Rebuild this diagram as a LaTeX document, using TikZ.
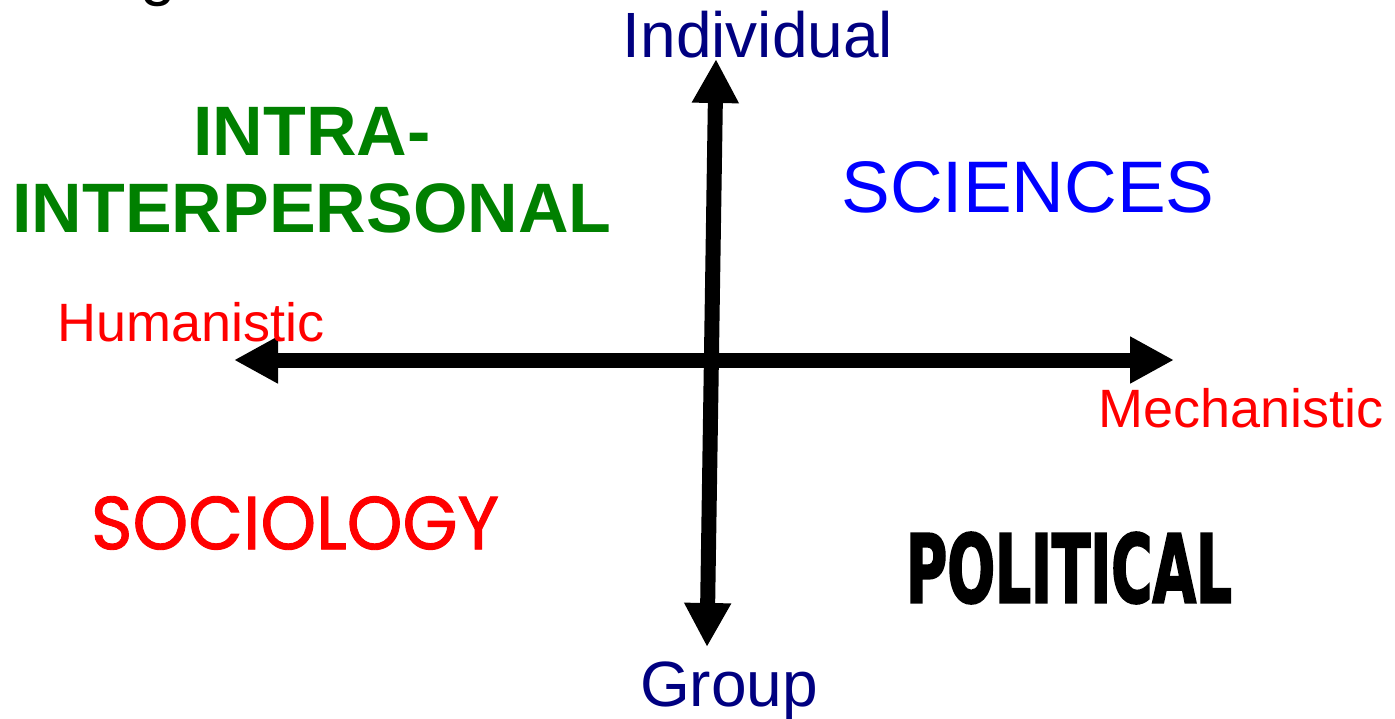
\documentclass[tikz,border=0pt]{standalone}
\usepackage{fontspec}
\setmainfont{Liberation Sans}
\newfontfamily\comicfont{Poppins}[FakeBold=1.2]
\newfontfamily\impfont{DejaVu Sans Condensed}[BoldFeatures={FakeBold=2.5}]
\usetikzlibrary{positioning,arrows.meta}
\definecolor{axisnavy}{RGB}{0,0,128}
\definecolor{quadgreen}{RGB}{0,128,0}
\definecolor{quadblue}{RGB}{0,0,255}
\definecolor{polered}{RGB}{255,0,0}
\tikzset{every picture/.style={>={Triangle[length=44pt,width=44pt]}}}
\tikzset{axis line/.style={line width=15pt,<->}}
\tikzset{pole/.style={text=axisnavy,anchor=base,inner sep=0pt,font=\fontsize{64}{70}\selectfont}}
\tikzset{side/.style={text=polered,anchor=base,inner sep=0pt,font=\fontsize{54}{60}\selectfont}}
\tikzset{quad/.style={inner sep=0pt}}

\begin{document}
\begin{tikzpicture}[x=1pt,y=-1pt]
      \useasboundingbox (0,0) rectangle (1395,718);
      % cut off title letter at the top
      \node[quad,anchor=base,font=\fontsize{64}{70}\selectfont] (title) at (158,-7) {g};
      % the two axes
      \coordinate (up) at (716,59);
      \coordinate (down) at (707,647);
      \coordinate (left) at (234,360);
      \coordinate (right) at (1174,360);
      \draw[axis line] (down) -- (up);
      \draw[axis line] (left) -- (right);
      % axis labels
      \node[pole] (indiv) at (758,57) {Individual};
      \node[pole] (group) at (729,706) {Group};
      \node[side] (human) at (191,341) {Humanistic};
      \node[side] (mech) at (1241,427) {Mechanistic};
      % quadrant labels
      \node[quad,anchor=base,text=quadgreen,font=\fontsize{70}{77}\bfseries] (intra) at (312,155) {INTRA-};
      \node[quad,anchor=base,text=quadgreen,font=\fontsize{70}{77}\bfseries] (inter) at (312,232) {INTERPERSONAL};
      \node[quad,anchor=base,text=quadblue,font=\fontsize{73}{80}\selectfont] (sci) at (1028,212) {SCIENCES};
      \node[quad,text=polered] (soc) at (295,523) {\resizebox{408pt}{53pt}{\comicfont SOCIOLOGY}};
      \node[quad] (pol) at (1069,568) {\resizebox{326pt}{70pt}{\impfont\bfseries POLITICAL}};
\end{tikzpicture}
\end{document}
